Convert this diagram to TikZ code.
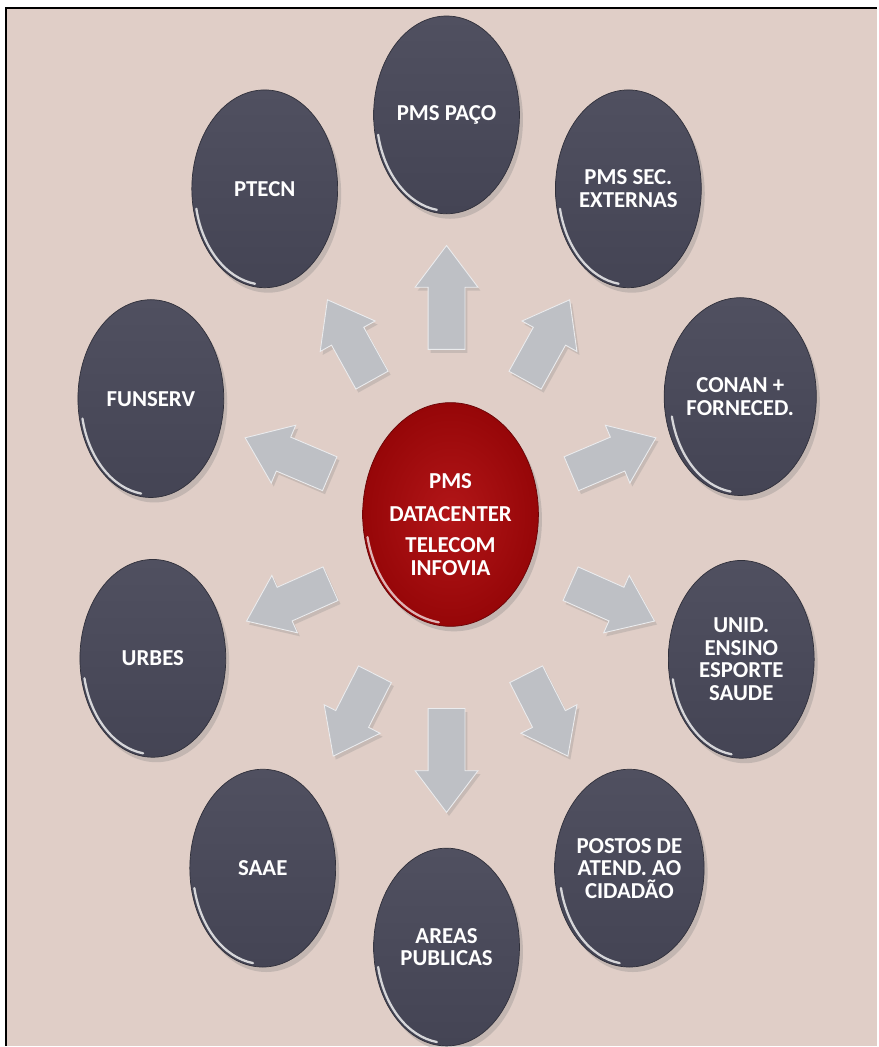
\documentclass[tikz,border=0pt]{standalone}
\usepackage{fontspec}
\setmainfont{Carlito}
\usetikzlibrary{shapes.geometric, shapes.arrows, shadows}

\definecolor{bgpink}{RGB}{224,206,199}
\definecolor{slate}{RGB}{68,68,84}
\definecolor{slatetop}{RGB}{80,80,96}
\definecolor{wine}{RGB}{150,6,8}
\definecolor{winelight}{RGB}{178,22,24}
\definecolor{arrowgray}{RGB}{190,192,197}

\tikzset{
  sat/.style = {ellipse, minimum width=2.92cm, minimum height=3.96cm, inner sep=0pt,
    top color=slatetop, bottom color=slate, draw=slate!70!black, line width=0.4pt,
    drop shadow={opacity=0.3, shadow xshift=0.07cm, shadow yshift=-0.1cm},
    text=white, align=center, font=\bfseries\fontsize{13}{12.8}\selectfont},
  hub/.style = {ellipse, minimum width=3.52cm, minimum height=4.48cm, inner sep=0pt,
    inner color=winelight, outer color=wine, draw=wine!70!black, line width=0.4pt,
    drop shadow={opacity=0.3, shadow xshift=0.07cm, shadow yshift=-0.1cm},
    text=white, align=center, font=\bfseries\fontsize{13}{12.8}\selectfont},
  blockarrow/.style = {single arrow, inner xsep=0pt, inner ysep=0.36cm,
    single arrow head extend=0.26cm, single arrow tip angle=74,
    fill=arrowgray, draw=white!70!arrowgray, line width=0.5pt,
    drop shadow={opacity=0.25, shadow xshift=0.05cm, shadow yshift=-0.07cm}},
  rim/.style = {white!78!slate, line width=1.3pt, line cap=round}
}

\begin{document}
\begin{tikzpicture}[x=0.02cm, y=-0.02cm]
  % page and frame
  \fill[white] (0,0) rectangle (878,1047);
  \fill[bgpink] (6,8) rectangle (878,1047);
  \draw[black, line width=1.2pt] (6,1047) -- (6,8) -- (878,8);
  \useasboundingbox (0,0) rectangle (878,1047);

  % arrows out of the hub
  \node[blockarrow, minimum height=2.08cm, rotate=90]   (arrpaco)    at (447,310) {};
  \node[blockarrow, minimum height=1.84cm, rotate=61]   (arrsecext)  at (542,351) {};
  \node[blockarrow, minimum height=1.84cm, rotate=23]   (arrconan)   at (603,461) {};
  \node[blockarrow, minimum height=1.84cm, rotate=-24]  (arrunid)    at (602,598) {};
  \node[blockarrow, minimum height=1.84cm, rotate=-63]  (arrpostos)  at (542,705) {};
  \node[blockarrow, minimum height=2.08cm, rotate=-90]  (arrareas)   at (447,749) {};
  \node[blockarrow, minimum height=1.84cm, rotate=-117] (arrsaae)    at (360,705) {};
  \node[blockarrow, minimum height=1.84cm, rotate=-156] (arrurbes)   at (300,598) {};
  \node[blockarrow, minimum height=1.84cm, rotate=157]  (arrfunserv) at (299,461) {};
  \node[blockarrow, minimum height=1.84cm, rotate=119]  (arrptecn)   at (356,351) {};

  % hub
  \node[hub] (dc) at (451,515) {\rule{0pt}{20pt}PMS\\[6pt]DATACENTER\\[5pt]TELECOM\\INFOVIA};

  % satellites
  \node[sat] (paco)    at (447,115) {PMS PAÇO};
  \node[sat] (secext)  at (629,189) {PMS SEC.\\EXTERNAS};
  \node[sat] (conan)   at (741,397) {CONAN +\\FORNECED.};
  \node[sat] (unid)    at (742,660) {UNID.\\ENSINO\\ESPORTE\\SAUDE};
  \node[sat] (postos)  at (630,869) {POSTOS DE\\ATEND. AO\\CIDADÃO};
  \node[sat] (areas)   at (447,948) {AREAS\\PUBLICAS};
  \node[sat] (saae)    at (263,869) {SAAE};
  \node[sat] (urbes)   at (153,659) {URBES};
  \node[sat] (funserv) at (151,399) {FUNSERV};
  \node[sat] (ptecn)   at (265,189) {PTECN};

  % glossy rims
  \foreach \n in {paco,secext,conan,unid,postos,areas,saae,urbes,funserv,ptecn}
    \draw[rim] ([shift={(\n.center)}]192:1.4cm and 1.92cm)
      arc[start angle=192, end angle=262, x radius=1.4cm, y radius=1.92cm];
  \draw[rim, white!70!wine] ([shift={(dc.center)}]192:1.7cm and 2.18cm)
    arc[start angle=192, end angle=262, x radius=1.7cm, y radius=2.18cm];
\end{tikzpicture}
\end{document}
